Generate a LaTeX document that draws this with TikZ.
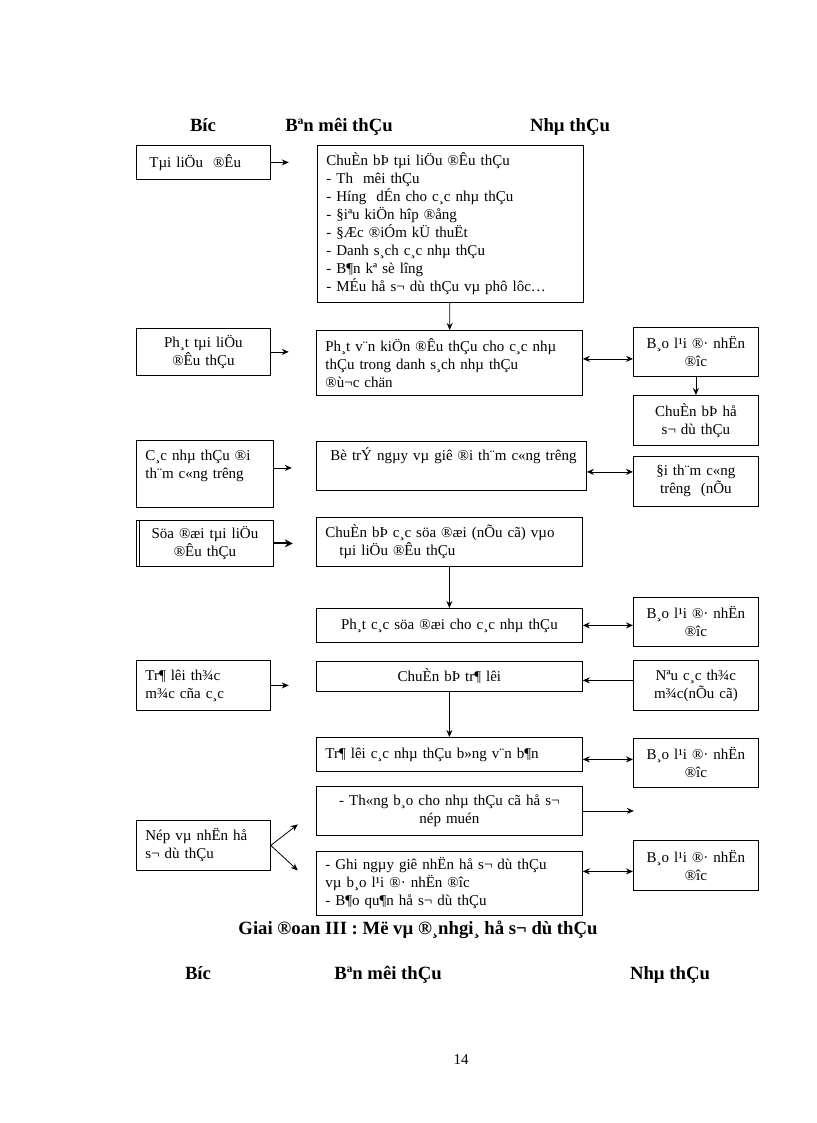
\documentclass[tikz,border=0pt]{standalone}
\usepackage{fontspec}
\setmainfont{Liberation Serif}
\usetikzlibrary{arrows.meta,positioning}
\newcommand{\boxfont}{\fontsize{15}{18}\selectfont}
\newcommand{\headfont}{\fontsize{18.7}{22}\selectfont\bfseries}
\tikzset{
  every picture/.style = {
    line width = 0.8pt,
    >={Stealth[length=7pt, width=6pt]},
  }
  ,
  box/.style = {
    draw,
    rectangle,
    font = \boxfont,
    inner xsep = 9pt,
    inner ysep = 0pt,
    anchor = north west
  }
  , % steps, left column
  stepbox/.style = {
    box,
    text width = 116pt
  }
  , % employer, middle column
  ownerbox/.style = {
    box,
    text width = 248pt
  }
  , % bidders, right column
  bidderbox/.style = {
    box,
    text width = 107pt,
    align = center
  }
  , % column titles and caption
  headline/.style = {
    font = \headfont,
    anchor = base
  }
}
\begin{document}
\begin{tikzpicture}[x=1pt, y=-1pt]
    \useasboundingbox (0,0) rectangle (816,1123);
    % column titles
    \node[headline] at (203,132) (h-step) {Bíc};
    \node[headline] at (339,132) (h-owner) {Bªn mêi thÇu};
    \node[headline] at (570,132) (h-bidder) {Nhµ thÇu};
    % row 1
    \node[stepbox, align=left, minimum height=34pt] at (136,145) (s1) {\hspace*{4pt}Tµi liÖu \ ®Êu};
    \node[ownerbox, align=left, minimum height=157pt] at (317,145) (o1) {ChuÈn bÞ tµi liÖu ®Êu thÇu\\- Th \ mêi thÇu\\- Híng \ dÉn cho c¸c nhµ thÇu\\- §iªu kiÖn hîp ®ång\\- §Æc ®iÓm kÜ thuËt\\- Danh s¸ch c¸c nhµ thÇu\\- B¶n kª sè lîng\\- MÉu hå s¬ dù thÇu vµ phô lôc…};
    % row 2
    \node[stepbox, align=center, minimum height=47pt] at (136,328) (s2) {Ph¸t tµi liÖu\\®Êu thÇu};
    \node[ownerbox, align=left, minimum height=65pt] at (316,330) (o2) {Ph¸t v¨n kiÖn ®Êu thÇu cho c¸c nhµ\\thÇu trong danh s¸ch nhµ thÇu\\®ù¬c chän};
    \node[bidderbox, minimum height=49pt] at (633,327) (b2) {B¸o l¹i ®· nhËn\\®îc};
    \node[bidderbox, minimum height=50pt] at (633,395) (b2-file) {ChuÈn bÞ hå\\s¬ dù thÇu};
    % row 3
    \node[stepbox, text width=119pt, align=left, text height=20pt, text depth=47pt] at (136,440) (s3) {C¸c nhµ thÇu ®i\\th¨m c«ng trêng};
    \node[ownerbox, text width=252pt, align=left, text height=19pt, text depth=30pt] at (316,441) (o3) {\hspace*{5pt}Bè trÝ ngµy vµ giê ®i th¨m c«ng trêng};
    \node[bidderbox, minimum height=50pt] at (633,456) (b3) {§i th¨m c«ng\\trêng \ (nÕu};
    % row 4
    \node[stepbox, text width=119pt, align=center, minimum height=46pt] at (136,520) (s4) {Söa ®æi tµi liÖu\\®Êu thÇu};
    \node[ownerbox, align=left, minimum height=49pt] at (316,517) (o4) {ChuÈn bÞ c¸c söa ®æi (nÕu cã) vµo\\\hspace*{14pt}tµi liÖu ®Êu thÇu};
    % row 5
    \node[ownerbox, align=center, minimum height=34pt] at (316,608) (o5) {Ph¸t c¸c söa ®æi cho c¸c nhµ thÇu};
    \node[bidderbox, minimum height=49pt] at (633,597) (b5) {B¸o l¹i ®· nhËn\\®îc};
    % row 6
    \node[stepbox, align=left, minimum height=50pt] at (136,660) (s6) {Tr¶ lêi th¾c\\m¾c cña c¸c};
    \node[ownerbox, align=center, minimum height=30pt] at (316,661) (o6) {ChuÈn bÞ tr¶ lêi};
    \node[bidderbox, minimum height=50pt] at (633,660) (b6) {Nªu c¸c th¾c\\m¾c(nÕu cã)};
    % row 7
    \node[ownerbox, align=left, minimum height=34pt] at (316,737) (o7) {Tr¶ lêi c¸c nhµ thÇu b»ng v¨n b¶n};
    \node[bidderbox, minimum height=49pt] at (633,738) (b7) {B¸o l¹i ®· nhËn\\®îc};
    % row 8
    \node[ownerbox, align=center, minimum height=49pt] at (316,786) (o8-late) {- Th«ng b¸o cho nhµ thÇu cã hå s¬\\nép muén};
    \node[stepbox, align=left, minimum height=50pt] at (136,820) (s8) {Nép vµ nhËn hå\\s¬ dù thÇu};
    \node[ownerbox, align=left, minimum height=64pt] at (316,851) (o8) {- Ghi ngµy giê nhËn hå s¬ dù thÇu\\vµ b¸o l¹i ®· nhËn ®îc\\- B¶o qu¶n hå s¬ dù thÇu};
    \node[bidderbox, minimum height=50pt] at (633,840) (b8) {B¸o l¹i ®· nhËn\\®îc};
    % caption, titles again and page number
    \node[headline] at (418,934) (caption) {Giai ®oan III : Më vµ ®¸nhgi¸ hå s¬ dù thÇu};
    \node[headline] at (198,979) (f-step) {Bíc};
    \node[headline] at (388,979) (f-owner) {Bªn mêi thÇu};
    \node[headline] at (670,979) (f-bidder) {Nhµ thÇu};
    \node[font=\boxfont, anchor=base] at (461,1064) (page) {14};
    % free ends
    \coordinate[right=18pt of s1.east] (s1-end);
    \coordinate[right=18pt of s2.east] (s2-end);
    \coordinate[right=18pt of s3.east] (s3-end);
    \coordinate[right=19pt of s4.east] (s4-end);
    \coordinate[right=18pt of s6.east] (s6-end);
    \coordinate[right=51pt of o8-late.east] (o8-late-end);
    \coordinate[above right=21pt and 27pt of s8.east] (s8-up);
    \coordinate[below right=25pt and 27pt of s8.east] (s8-down);
    % connectors
    \draw[->] (s1) -- (s1-end);
    \draw[->] (s2) -- (s2-end);
    \draw[->] ([yshift=6pt]s3.east) -- ([yshift=6pt]s3-end);
    \draw[-{Stealth[length=8pt, width=8pt]}, line width=2pt] (s4) -- (s4-end);
    \draw[->] (s6) -- (s6-end);
    \draw[->] (s8.east) -- (s8-up);
    \draw[->] (s8.east) -- (s8-down);
    \draw[->] (o1) -- (o2);
    \draw[->] (o4) -- (o5);
    \draw[->] (o6) -- (o7);
    \draw[->] (b2) -- (b2-file);
    \draw[<->] ([yshift=4pt]o2.east) -- ([yshift=4pt]o2.east -| b2.west);
    \draw[<->] ([yshift=-6pt]o3.east) -- ([yshift=-6pt]o3.east -| b3.west);
    \draw[<->] (o5.east) -- (o5.east -| b5.west);
    \draw[->] ([yshift=5pt]b6.west) -- ([yshift=5pt]b6.west -| o6.east);
    \draw[<->] ([yshift=-5pt]o7.east) -- ([yshift=-5pt]o7.east -| b7.west);
    \draw[->] (o8-late) -- (o8-late-end);
    \draw[<->] ([yshift=-6pt]b8.west) -- ([yshift=-6pt]b8.west -| o8.east);
    % second line on the left of the fourth step
    \draw ([xshift=3pt]s4.north west) -- ([xshift=3pt]s4.south west);
\end{tikzpicture}
\end{document}
